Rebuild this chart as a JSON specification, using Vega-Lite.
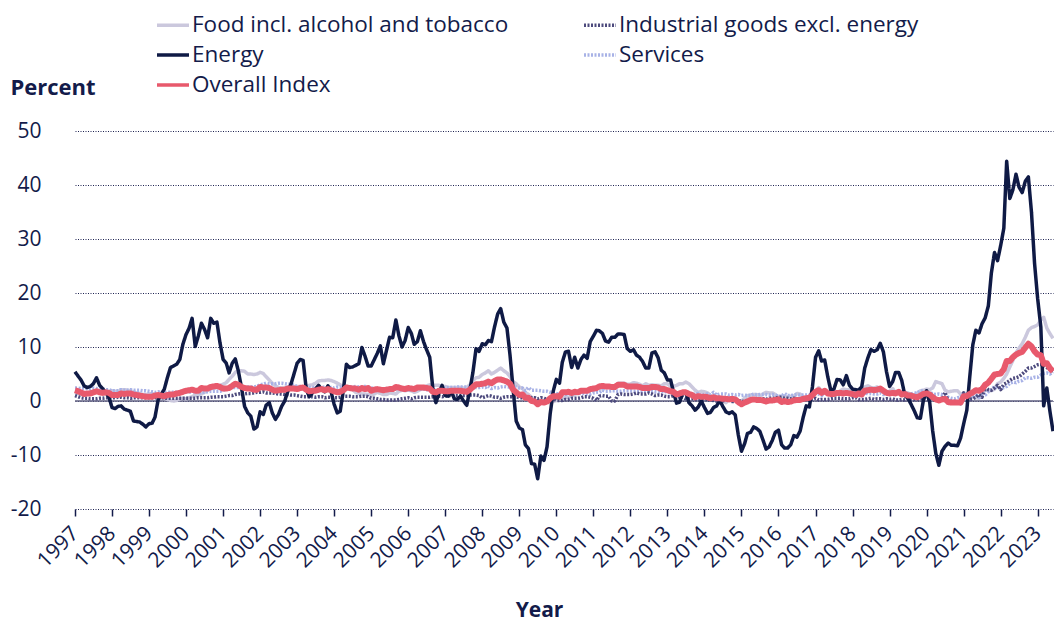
{
"$schema":"https://vega.github.io/schema/vega-lite/v6.json",
"width":978,"height":378,
"autosize":{"type":"none"},
"padding":{"left":75,"top":131,"right":1,"bottom":113},
"background":"white",
"config":{"view":{"stroke":null},"font":"Open Sans","axis":{"labelColor":"#131b4a","titleColor":"#131b4a","labelFont":"Open Sans","titleFont":"Open Sans"},"legend":{"labelColor":"#131b4a","labelFont":"Open Sans"}},
"data":{"values":[
{"d":"1997-01","F":1.6,"E":5.4,"I":1.0,"S":2.4,"O":2.0},{"d":"1997-02","F":1.4,"E":4.6,"I":0.8,"S":2.4,"O":1.8},{"d":"1997-03","F":1.3,"E":3.9,"I":0.6,"S":2.3,"O":1.6},{"d":"1997-04","F":1.2,"E":2.8,"I":0.5,"S":2.3,"O":1.3},{"d":"1997-05","F":1.4,"E":2.5,"I":0.5,"S":2.3,"O":1.4},{"d":"1997-06","F":1.4,"E":2.7,"I":0.4,"S":2.2,"O":1.4},{"d":"1997-07","F":1.6,"E":3.2,"I":0.4,"S":2.4,"O":1.6},{"d":"1997-08","F":1.9,"E":4.3,"I":0.4,"S":2.3,"O":1.8},{"d":"1997-09","F":1.7,"E":2.9,"I":0.5,"S":2.2,"O":1.6},{"d":"1997-10","F":1.6,"E":2.3,"I":0.5,"S":2.2,"O":1.5},{"d":"1997-11","F":1.7,"E":1.5,"I":0.6,"S":2.1,"O":1.6},{"d":"1997-12","F":1.8,"E":0.8,"I":0.6,"S":2.1,"O":1.5},
{"d":"1998-01","F":1.9,"E":-1.2,"I":0.6,"S":1.9,"O":1.1},{"d":"1998-02","F":1.8,"E":-1.4,"I":0.6,"S":1.9,"O":1.1},{"d":"1998-03","F":1.8,"E":-1.0,"I":0.7,"S":1.9,"O":1.1},{"d":"1998-04","F":2.1,"E":-0.9,"I":0.7,"S":2.1,"O":1.4},{"d":"1998-05","F":2.1,"E":-1.5,"I":0.6,"S":2.0,"O":1.3},{"d":"1998-06","F":2.0,"E":-1.7,"I":0.6,"S":2.0,"O":1.4},{"d":"1998-07","F":1.9,"E":-1.9,"I":0.5,"S":2.1,"O":1.4},{"d":"1998-08","F":1.7,"E":-3.7,"I":0.6,"S":2.0,"O":1.2},{"d":"1998-09","F":1.5,"E":-3.8,"I":0.6,"S":2.0,"O":1.1},{"d":"1998-10","F":1.4,"E":-3.9,"I":0.6,"S":2.0,"O":1.0},{"d":"1998-11","F":1.2,"E":-4.3,"I":0.6,"S":1.9,"O":0.9},{"d":"1998-12","F":1.2,"E":-4.8,"I":0.6,"S":1.9,"O":0.8},
{"d":"1999-01","F":1.3,"E":-4.2,"I":0.6,"S":1.8,"O":0.8},{"d":"1999-02","F":1.4,"E":-4.1,"I":0.6,"S":1.7,"O":0.8},{"d":"1999-03","F":1.2,"E":-3.0,"I":0.6,"S":1.6,"O":1.0},{"d":"1999-04","F":1.0,"E":0.2,"I":0.6,"S":1.7,"O":1.1},{"d":"1999-05","F":0.6,"E":1.2,"I":0.6,"S":1.6,"O":1.0},{"d":"1999-06","F":0.5,"E":2.2,"I":0.6,"S":1.5,"O":0.9},{"d":"1999-07","F":0.3,"E":4.3,"I":0.5,"S":1.6,"O":1.1},{"d":"1999-08","F":0.1,"E":6.2,"I":0.5,"S":1.6,"O":1.2},{"d":"1999-09","F":0.0,"E":6.5,"I":0.5,"S":1.6,"O":1.2},{"d":"1999-10","F":0.1,"E":6.8,"I":0.5,"S":1.6,"O":1.4},{"d":"1999-11","F":0.4,"E":7.7,"I":0.5,"S":1.6,"O":1.5},{"d":"1999-12","F":0.5,"E":10.5,"I":0.5,"S":1.7,"O":1.7},
{"d":"2000-01","F":0.4,"E":12.3,"I":0.5,"S":1.7,"O":1.9},{"d":"2000-02","F":0.6,"E":13.5,"I":0.5,"S":1.7,"O":2.0},{"d":"2000-03","F":0.8,"E":15.3,"I":0.5,"S":1.6,"O":2.1},{"d":"2000-04","F":1.1,"E":10.1,"I":0.5,"S":1.8,"O":1.9},{"d":"2000-05","F":1.1,"E":12.0,"I":0.6,"S":1.5,"O":1.9},{"d":"2000-06","F":1.3,"E":14.4,"I":0.6,"S":1.6,"O":2.4},{"d":"2000-07","F":1.6,"E":13.3,"I":0.6,"S":1.6,"O":2.3},{"d":"2000-08","F":2.0,"E":11.7,"I":0.6,"S":1.7,"O":2.3},{"d":"2000-09","F":2.3,"E":15.3,"I":0.7,"S":1.8,"O":2.6},{"d":"2000-10","F":2.3,"E":14.4,"I":0.7,"S":1.8,"O":2.7},{"d":"2000-11","F":2.7,"E":14.6,"I":0.8,"S":1.8,"O":2.8},{"d":"2000-12","F":2.9,"E":10.8,"I":0.8,"S":1.8,"O":2.6},
{"d":"2001-01","F":3.1,"E":7.7,"I":0.8,"S":2.0,"O":2.3},{"d":"2001-02","F":3.4,"E":7.0,"I":0.9,"S":2.1,"O":2.3},{"d":"2001-03","F":4.0,"E":5.2,"I":1.0,"S":2.3,"O":2.4},{"d":"2001-04","F":4.6,"E":7.0,"I":1.0,"S":2.5,"O":2.8},{"d":"2001-05","F":5.3,"E":7.8,"I":1.2,"S":2.5,"O":3.2},{"d":"2001-06","F":5.6,"E":5.5,"I":1.3,"S":2.5,"O":3.0},{"d":"2001-07","F":5.6,"E":2.5,"I":1.4,"S":2.5,"O":2.6},{"d":"2001-08","F":5.5,"E":-1.0,"I":1.3,"S":2.5,"O":2.4},{"d":"2001-09","F":5.0,"E":-2.2,"I":1.4,"S":2.6,"O":2.3},{"d":"2001-10","F":5.0,"E":-2.8,"I":1.4,"S":2.6,"O":2.3},{"d":"2001-11","F":4.9,"E":-5.2,"I":1.5,"S":2.6,"O":2.1},{"d":"2001-12","F":5.0,"E":-4.8,"I":1.6,"S":2.7,"O":2.1},
{"d":"2002-01","F":5.3,"E":-2.0,"I":1.6,"S":3.0,"O":2.6},{"d":"2002-02","F":5.1,"E":-2.5,"I":1.7,"S":3.1,"O":2.5},{"d":"2002-03","F":4.5,"E":-0.8,"I":1.5,"S":3.3,"O":2.5},{"d":"2002-04","F":3.9,"E":-0.3,"I":1.5,"S":3.2,"O":2.4},{"d":"2002-05","F":3.3,"E":-2.2,"I":1.5,"S":3.2,"O":2.1},{"d":"2002-06","F":2.8,"E":-3.4,"I":1.4,"S":3.2,"O":1.9},{"d":"2002-07","F":2.5,"E":-2.5,"I":1.3,"S":3.3,"O":2.0},{"d":"2002-08","F":2.4,"E":-1.0,"I":1.3,"S":3.3,"O":2.1},{"d":"2002-09","F":2.4,"E":0.0,"I":1.2,"S":3.2,"O":2.1},{"d":"2002-10","F":2.6,"E":1.8,"I":1.2,"S":3.1,"O":2.3},{"d":"2002-11","F":2.6,"E":3.1,"I":1.1,"S":3.1,"O":2.3},{"d":"2002-12","F":2.7,"E":5.0,"I":1.1,"S":2.9,"O":2.3},
{"d":"2003-01","F":2.6,"E":7.0,"I":1.0,"S":2.7,"O":2.2},{"d":"2003-02","F":2.6,"E":7.7,"I":0.9,"S":2.7,"O":2.4},{"d":"2003-03","F":2.4,"E":7.5,"I":0.8,"S":2.6,"O":2.5},{"d":"2003-04","F":2.6,"E":2.2,"I":0.8,"S":2.7,"O":2.1},{"d":"2003-05","F":2.9,"E":0.8,"I":0.8,"S":2.5,"O":1.8},{"d":"2003-06","F":3.0,"E":1.5,"I":0.8,"S":2.5,"O":1.9},{"d":"2003-07","F":3.3,"E":2.2,"I":0.7,"S":2.4,"O":1.9},{"d":"2003-08","F":3.7,"E":2.9,"I":0.8,"S":2.4,"O":2.1},{"d":"2003-09","F":3.8,"E":2.1,"I":0.8,"S":2.6,"O":2.2},{"d":"2003-10","F":3.8,"E":1.7,"I":0.6,"S":2.5,"O":2.0},{"d":"2003-11","F":3.9,"E":2.8,"I":0.7,"S":2.5,"O":2.2},{"d":"2003-12","F":3.8,"E":1.8,"I":0.7,"S":2.5,"O":2.0},
{"d":"2004-01","F":3.6,"E":-0.6,"I":0.6,"S":2.4,"O":1.8},{"d":"2004-02","F":3.3,"E":-2.2,"I":0.6,"S":2.6,"O":1.6},{"d":"2004-03","F":3.0,"E":-1.9,"I":0.7,"S":2.6,"O":1.7},{"d":"2004-04","F":2.6,"E":2.0,"I":0.9,"S":2.6,"O":2.0},{"d":"2004-05","F":2.7,"E":6.8,"I":0.9,"S":2.6,"O":2.5},{"d":"2004-06","F":2.4,"E":6.2,"I":0.9,"S":2.6,"O":2.4},{"d":"2004-07","F":2.1,"E":6.3,"I":0.8,"S":2.6,"O":2.3},{"d":"2004-08","F":1.6,"E":6.6,"I":0.8,"S":2.7,"O":2.3},{"d":"2004-09","F":1.4,"E":6.9,"I":0.8,"S":2.6,"O":2.1},{"d":"2004-10","F":1.3,"E":9.9,"I":0.9,"S":2.6,"O":2.4},{"d":"2004-11","F":1.3,"E":8.3,"I":0.9,"S":2.7,"O":2.2},{"d":"2004-12","F":1.2,"E":6.5,"I":0.8,"S":2.6,"O":2.4},
{"d":"2005-01","F":1.1,"E":6.5,"I":0.5,"S":2.4,"O":1.9},{"d":"2005-02","F":1.3,"E":7.7,"I":0.5,"S":2.3,"O":2.1},{"d":"2005-03","F":1.6,"E":8.8,"I":0.4,"S":2.3,"O":2.2},{"d":"2005-04","F":1.4,"E":10.2,"I":0.3,"S":2.2,"O":2.1},{"d":"2005-05","F":1.2,"E":6.9,"I":0.3,"S":2.2,"O":2.0},{"d":"2005-06","F":1.2,"E":9.4,"I":0.2,"S":2.3,"O":2.1},{"d":"2005-07","F":1.5,"E":11.8,"I":0.2,"S":2.3,"O":2.2},{"d":"2005-08","F":1.4,"E":11.7,"I":0.2,"S":2.3,"O":2.2},{"d":"2005-09","F":1.3,"E":15.0,"I":0.2,"S":2.2,"O":2.6},{"d":"2005-10","F":1.8,"E":12.1,"I":0.3,"S":2.2,"O":2.5},{"d":"2005-11","F":2.0,"E":10.0,"I":0.4,"S":2.1,"O":2.3},{"d":"2005-12","F":1.9,"E":11.2,"I":0.5,"S":2.1,"O":2.2},
{"d":"2006-01","F":2.0,"E":13.6,"I":0.6,"S":2.0,"O":2.4},{"d":"2006-02","F":1.9,"E":12.5,"I":0.4,"S":2.1,"O":2.3},{"d":"2006-03","F":1.6,"E":10.5,"I":0.6,"S":2.1,"O":2.2},{"d":"2006-04","F":1.8,"E":11.0,"I":0.7,"S":2.2,"O":2.5},{"d":"2006-05","F":2.1,"E":13.0,"I":0.7,"S":2.2,"O":2.5},{"d":"2006-06","F":2.3,"E":11.0,"I":0.7,"S":2.2,"O":2.5},{"d":"2006-07","F":2.8,"E":9.5,"I":0.7,"S":2.1,"O":2.4},{"d":"2006-08","F":3.0,"E":8.1,"I":0.7,"S":2.1,"O":2.3},{"d":"2006-09","F":2.9,"E":2.2,"I":0.8,"S":2.1,"O":1.7},{"d":"2006-10","F":2.9,"E":-0.3,"I":0.8,"S":2.1,"O":1.6},{"d":"2006-11","F":2.9,"E":1.5,"I":0.9,"S":2.1,"O":1.9},{"d":"2006-12","F":2.7,"E":2.9,"I":0.8,"S":2.1,"O":1.9},
{"d":"2007-01","F":2.7,"E":1.0,"I":0.9,"S":2.5,"O":1.8},{"d":"2007-02","F":2.5,"E":0.9,"I":1.0,"S":2.5,"O":1.8},{"d":"2007-03","F":2.5,"E":1.8,"I":1.0,"S":2.5,"O":1.9},{"d":"2007-04","F":2.5,"E":0.4,"I":1.0,"S":2.5,"O":1.9},{"d":"2007-05","F":2.5,"E":0.3,"I":1.0,"S":2.6,"O":1.9},{"d":"2007-06","F":2.5,"E":0.9,"I":1.0,"S":2.6,"O":1.9},{"d":"2007-07","F":2.4,"E":0.0,"I":1.0,"S":2.6,"O":1.8},{"d":"2007-08","F":2.5,"E":-0.8,"I":1.0,"S":2.6,"O":1.7},{"d":"2007-09","F":3.0,"E":2.0,"I":1.1,"S":2.5,"O":2.1},{"d":"2007-10","F":3.8,"E":5.3,"I":1.1,"S":2.5,"O":2.6},{"d":"2007-11","F":4.3,"E":9.7,"I":1.1,"S":2.5,"O":3.1},{"d":"2007-12","F":4.4,"E":9.2,"I":1.0,"S":2.5,"O":3.1},
{"d":"2008-01","F":4.9,"E":10.6,"I":0.6,"S":2.6,"O":3.2},{"d":"2008-02","F":5.2,"E":10.4,"I":0.8,"S":2.5,"O":3.3},{"d":"2008-03","F":5.6,"E":11.2,"I":1.0,"S":2.8,"O":3.6},{"d":"2008-04","F":5.0,"E":11.0,"I":0.9,"S":2.3,"O":3.3},{"d":"2008-05","F":5.3,"E":13.7,"I":0.7,"S":2.5,"O":3.7},{"d":"2008-06","F":5.7,"E":16.1,"I":0.7,"S":2.4,"O":4.0},{"d":"2008-07","F":6.1,"E":17.1,"I":0.5,"S":2.6,"O":4.0},{"d":"2008-08","F":5.6,"E":14.6,"I":0.7,"S":2.7,"O":3.8},{"d":"2008-09","F":5.2,"E":13.5,"I":0.8,"S":2.6,"O":3.6},{"d":"2008-10","F":4.5,"E":8.5,"I":0.8,"S":2.6,"O":3.2},{"d":"2008-11","F":3.6,"E":2.1,"I":0.8,"S":2.6,"O":2.1},{"d":"2008-12","F":3.2,"E":-3.7,"I":0.8,"S":2.6,"O":1.6},
{"d":"2009-01","F":2.6,"E":-5.0,"I":0.6,"S":2.4,"O":1.1},{"d":"2009-02","F":2.3,"E":-5.3,"I":0.6,"S":2.4,"O":1.2},{"d":"2009-03","F":1.6,"E":-8.1,"I":0.8,"S":1.9,"O":0.6},{"d":"2009-04","F":1.2,"E":-8.8,"I":0.8,"S":2.5,"O":0.6},{"d":"2009-05","F":0.7,"E":-11.6,"I":0.6,"S":2.0,"O":0.0},{"d":"2009-06","F":0.2,"E":-11.7,"I":0.6,"S":2.0,"O":-0.1},{"d":"2009-07","F":-0.1,"E":-14.4,"I":0.4,"S":2.0,"O":-0.6},{"d":"2009-08","F":-0.1,"E":-10.2,"I":0.6,"S":1.9,"O":-0.2},{"d":"2009-09","F":0.1,"E":-11.0,"I":0.5,"S":1.8,"O":-0.3},{"d":"2009-10","F":-0.2,"E":-8.5,"I":0.3,"S":1.8,"O":-0.1},{"d":"2009-11","F":-0.1,"E":-2.4,"I":0.3,"S":1.6,"O":0.5},{"d":"2009-12","F":-0.1,"E":1.8,"I":0.4,"S":1.6,"O":0.9},
{"d":"2010-01","F":0.1,"E":4.0,"I":0.1,"S":1.4,"O":0.9},{"d":"2010-02","F":0.4,"E":3.3,"I":0.1,"S":1.3,"O":0.8},{"d":"2010-03","F":0.5,"E":7.2,"I":0.1,"S":1.6,"O":1.6},{"d":"2010-04","F":0.7,"E":9.1,"I":0.3,"S":1.2,"O":1.6},{"d":"2010-05","F":0.7,"E":9.2,"I":0.3,"S":1.5,"O":1.7},{"d":"2010-06","F":0.9,"E":6.2,"I":0.5,"S":1.4,"O":1.5},{"d":"2010-07","F":1.2,"E":8.1,"I":0.5,"S":1.5,"O":1.7},{"d":"2010-08","F":1.6,"E":6.1,"I":0.5,"S":1.4,"O":1.6},{"d":"2010-09","F":1.6,"E":7.7,"I":0.6,"S":1.4,"O":1.9},{"d":"2010-10","F":1.7,"E":8.5,"I":0.8,"S":1.4,"O":1.9},{"d":"2010-11","F":1.8,"E":7.9,"I":0.8,"S":1.3,"O":1.9},{"d":"2010-12","F":2.1,"E":11.0,"I":0.7,"S":1.3,"O":2.2},
{"d":"2011-01","F":1.9,"E":12.0,"I":0.5,"S":1.5,"O":2.3},{"d":"2011-02","F":2.3,"E":13.1,"I":0.1,"S":1.6,"O":2.4},{"d":"2011-03","F":2.4,"E":13.0,"I":0.9,"S":1.6,"O":2.7},{"d":"2011-04","F":2.2,"E":12.5,"I":1.0,"S":2.0,"O":2.8},{"d":"2011-05","F":2.8,"E":11.1,"I":0.9,"S":1.8,"O":2.7},{"d":"2011-06","F":2.7,"E":10.9,"I":0.9,"S":1.8,"O":2.7},{"d":"2011-07","F":2.7,"E":11.8,"I":0.0,"S":1.9,"O":2.6},{"d":"2011-08","F":2.7,"E":11.8,"I":0.0,"S":1.9,"O":2.6},{"d":"2011-09","F":3.3,"E":12.4,"I":1.2,"S":1.8,"O":3.0},{"d":"2011-10","F":3.3,"E":12.4,"I":1.3,"S":1.8,"O":3.0},{"d":"2011-11","F":3.3,"E":12.3,"I":1.2,"S":1.9,"O":3.0},{"d":"2011-12","F":3.1,"E":9.7,"I":1.2,"S":1.9,"O":2.7},
{"d":"2012-01","F":3.1,"E":9.2,"I":1.2,"S":1.9,"O":2.7},{"d":"2012-02","F":3.4,"E":9.5,"I":1.3,"S":1.8,"O":2.7},{"d":"2012-03","F":3.3,"E":8.5,"I":1.5,"S":1.8,"O":2.7},{"d":"2012-04","F":3.1,"E":8.1,"I":1.3,"S":1.8,"O":2.6},{"d":"2012-05","F":2.8,"E":7.3,"I":1.3,"S":1.8,"O":2.4},{"d":"2012-06","F":3.2,"E":6.1,"I":1.3,"S":1.7,"O":2.4},{"d":"2012-07","F":2.9,"E":6.1,"I":1.5,"S":1.8,"O":2.4},{"d":"2012-08","F":3.0,"E":8.9,"I":1.3,"S":1.8,"O":2.6},{"d":"2012-09","F":2.9,"E":9.1,"I":1.0,"S":1.7,"O":2.6},{"d":"2012-10","F":2.9,"E":8.0,"I":1.1,"S":1.7,"O":2.5},{"d":"2012-11","F":2.8,"E":5.7,"I":1.1,"S":1.7,"O":2.2},{"d":"2012-12","F":3.2,"E":5.2,"I":0.9,"S":1.8,"O":2.2},
{"d":"2013-01","F":3.2,"E":3.9,"I":0.8,"S":1.6,"O":2.0},{"d":"2013-02","F":2.7,"E":3.9,"I":0.8,"S":1.5,"O":1.8},{"d":"2013-03","F":2.7,"E":1.7,"I":1.0,"S":1.8,"O":1.7},{"d":"2013-04","F":2.9,"E":-0.4,"I":0.8,"S":1.1,"O":1.2},{"d":"2013-05","F":3.2,"E":-0.2,"I":0.7,"S":1.5,"O":1.4},{"d":"2013-06","F":3.2,"E":1.6,"I":0.7,"S":1.4,"O":1.6},{"d":"2013-07","F":3.5,"E":1.6,"I":0.4,"S":1.4,"O":1.6},{"d":"2013-08","F":3.2,"E":-0.3,"I":0.4,"S":1.4,"O":1.3},{"d":"2013-09","F":2.6,"E":-0.9,"I":0.4,"S":1.4,"O":1.1},{"d":"2013-10","F":2.0,"E":-1.7,"I":0.3,"S":1.2,"O":0.7},{"d":"2013-11","F":1.6,"E":-1.1,"I":0.3,"S":1.4,"O":0.9},{"d":"2013-12","F":1.8,"E":0.0,"I":0.2,"S":1.0,"O":0.8},
{"d":"2014-01","F":1.7,"E":-1.2,"I":0.2,"S":1.2,"O":0.8},{"d":"2014-02","F":1.5,"E":-2.3,"I":0.4,"S":1.3,"O":0.7},{"d":"2014-03","F":1.0,"E":-2.1,"I":0.2,"S":1.1,"O":0.5},{"d":"2014-04","F":0.7,"E":-1.2,"I":0.1,"S":1.6,"O":0.7},{"d":"2014-05","F":0.1,"E":-0.9,"I":0.0,"S":1.1,"O":0.5},{"d":"2014-06","F":0.2,"E":0.1,"I":-0.1,"S":1.3,"O":0.5},{"d":"2014-07","F":0.0,"E":-1.0,"I":0.0,"S":1.3,"O":0.4},{"d":"2014-08","F":-0.3,"E":-2.0,"I":0.3,"S":1.3,"O":0.4},{"d":"2014-09","F":0.3,"E":-2.3,"I":0.2,"S":1.1,"O":0.3},{"d":"2014-10","F":0.5,"E":-2.0,"I":-0.1,"S":1.2,"O":0.4},{"d":"2014-11","F":0.5,"E":-2.6,"I":-0.1,"S":1.1,"O":0.3},{"d":"2014-12","F":0.0,"E":-6.3,"I":0.1,"S":1.2,"O":-0.2},
{"d":"2015-01","F":0.0,"E":-9.3,"I":-0.1,"S":1.0,"O":-0.6},{"d":"2015-02","F":0.5,"E":-7.9,"I":0.0,"S":1.1,"O":-0.3},{"d":"2015-03","F":1.0,"E":-6.0,"I":0.1,"S":1.0,"O":-0.1},{"d":"2015-04","F":1.1,"E":-5.8,"I":0.1,"S":1.0,"O":0.2},{"d":"2015-05","F":1.2,"E":-4.8,"I":0.3,"S":1.3,"O":0.3},{"d":"2015-06","F":1.2,"E":-5.1,"I":0.2,"S":1.1,"O":0.2},{"d":"2015-07","F":0.9,"E":-5.6,"I":0.4,"S":1.2,"O":0.2},{"d":"2015-08","F":1.3,"E":-7.2,"I":0.4,"S":1.2,"O":0.1},{"d":"2015-09","F":1.6,"E":-8.9,"I":0.3,"S":1.2,"O":-0.1},{"d":"2015-10","F":1.5,"E":-8.5,"I":0.5,"S":1.1,"O":0.1},{"d":"2015-11","F":1.5,"E":-7.3,"I":0.5,"S":1.2,"O":0.1},{"d":"2015-12","F":1.2,"E":-5.8,"I":0.5,"S":1.1,"O":0.2},
{"d":"2016-01","F":0.8,"E":-5.4,"I":0.7,"S":0.9,"O":0.3},{"d":"2016-02","F":0.8,"E":-8.1,"I":0.7,"S":0.9,"O":-0.2},{"d":"2016-03","F":0.8,"E":-8.7,"I":0.5,"S":1.4,"O":0.0},{"d":"2016-04","F":0.8,"E":-8.7,"I":0.5,"S":1.0,"O":-0.2},{"d":"2016-05","F":0.9,"E":-8.1,"I":0.4,"S":1.0,"O":-0.1},{"d":"2016-06","F":0.9,"E":-6.4,"I":0.5,"S":1.1,"O":0.1},{"d":"2016-07","F":1.4,"E":-6.7,"I":0.4,"S":1.2,"O":0.2},{"d":"2016-08","F":1.3,"E":-5.6,"I":0.3,"S":1.1,"O":0.2},{"d":"2016-09","F":0.7,"E":-3.0,"I":0.3,"S":1.1,"O":0.4},{"d":"2016-10","F":0.7,"E":-0.9,"I":0.3,"S":1.1,"O":0.5},{"d":"2016-11","F":0.6,"E":-1.1,"I":0.3,"S":1.1,"O":0.6},{"d":"2016-12","F":1.2,"E":2.6,"I":0.3,"S":1.3,"O":1.1},
{"d":"2017-01","F":1.8,"E":8.1,"I":0.5,"S":1.6,"O":1.7},{"d":"2017-02","F":2.5,"E":9.3,"I":0.2,"S":1.3,"O":2.0},{"d":"2017-03","F":1.8,"E":7.4,"I":0.3,"S":1.0,"O":1.5},{"d":"2017-04","F":1.5,"E":7.6,"I":0.3,"S":1.8,"O":1.9},{"d":"2017-05","F":1.5,"E":4.5,"I":0.3,"S":1.3,"O":1.4},{"d":"2017-06","F":1.3,"E":1.9,"I":0.4,"S":1.6,"O":1.3},{"d":"2017-07","F":1.4,"E":2.2,"I":0.5,"S":1.6,"O":1.3},{"d":"2017-08","F":1.4,"E":4.0,"I":0.5,"S":1.6,"O":1.5},{"d":"2017-09","F":1.9,"E":3.9,"I":0.5,"S":1.5,"O":1.5},{"d":"2017-10","F":2.2,"E":3.0,"I":0.4,"S":1.2,"O":1.4},{"d":"2017-11","F":2.1,"E":4.7,"I":0.4,"S":1.5,"O":1.5},{"d":"2017-12","F":2.1,"E":2.9,"I":0.4,"S":1.4,"O":1.4},
{"d":"2018-01","F":1.9,"E":2.2,"I":0.6,"S":1.3,"O":1.3},{"d":"2018-02","F":1.0,"E":2.1,"I":0.6,"S":1.2,"O":1.1},{"d":"2018-03","F":2.1,"E":2.0,"I":0.3,"S":1.5,"O":1.4},{"d":"2018-04","F":2.6,"E":2.6,"I":0.3,"S":1.0,"O":1.2},{"d":"2018-05","F":2.6,"E":6.1,"I":0.3,"S":1.6,"O":1.9},{"d":"2018-06","F":2.8,"E":8.0,"I":0.4,"S":1.3,"O":2.0},{"d":"2018-07","F":2.5,"E":9.5,"I":0.5,"S":1.4,"O":2.1},{"d":"2018-08","F":2.4,"E":9.2,"I":0.3,"S":1.3,"O":2.0},{"d":"2018-09","F":2.6,"E":9.5,"I":0.4,"S":1.3,"O":2.1},{"d":"2018-10","F":2.2,"E":10.7,"I":0.4,"S":1.5,"O":2.3},{"d":"2018-11","F":1.9,"E":9.1,"I":0.3,"S":1.2,"O":1.9},{"d":"2018-12","F":1.7,"E":5.5,"I":0.4,"S":1.3,"O":1.5},
{"d":"2019-01","F":1.8,"E":2.7,"I":0.3,"S":1.2,"O":1.4},{"d":"2019-02","F":2.3,"E":3.6,"I":0.4,"S":1.4,"O":1.5},{"d":"2019-03","F":1.5,"E":5.3,"I":0.2,"S":1.3,"O":1.4},{"d":"2019-04","F":1.5,"E":5.3,"I":0.2,"S":1.9,"O":1.7},{"d":"2019-05","F":1.6,"E":3.8,"I":0.3,"S":1.0,"O":1.2},{"d":"2019-06","F":1.6,"E":1.0,"I":0.2,"S":1.6,"O":1.3},{"d":"2019-07","F":1.5,"E":0.5,"I":0.4,"S":1.2,"O":1.0},{"d":"2019-08","F":1.2,"E":-0.6,"I":0.3,"S":1.3,"O":1.0},{"d":"2019-09","F":1.1,"E":-1.8,"I":0.3,"S":1.5,"O":0.8},{"d":"2019-10","F":1.4,"E":-3.1,"I":0.3,"S":1.5,"O":0.7},{"d":"2019-11","F":1.9,"E":-3.2,"I":0.4,"S":1.9,"O":1.0},{"d":"2019-12","F":2.0,"E":0.2,"I":0.5,"S":1.8,"O":1.3},
{"d":"2020-01","F":2.2,"E":1.9,"I":0.3,"S":1.5,"O":1.4},{"d":"2020-02","F":2.1,"E":-0.3,"I":0.5,"S":1.6,"O":1.2},{"d":"2020-03","F":2.4,"E":-5.5,"I":0.5,"S":1.3,"O":0.7},{"d":"2020-04","F":3.6,"E":-9.7,"I":0.3,"S":1.2,"O":0.3},{"d":"2020-05","F":3.4,"E":-11.9,"I":0.2,"S":1.3,"O":0.1},{"d":"2020-06","F":3.2,"E":-9.3,"I":0.2,"S":1.2,"O":0.3},{"d":"2020-07","F":2.0,"E":-8.4,"I":1.6,"S":0.9,"O":0.4},{"d":"2020-08","F":1.7,"E":-7.8,"I":-0.1,"S":0.7,"O":-0.2},{"d":"2020-09","F":1.8,"E":-8.2,"I":-0.1,"S":0.5,"O":-0.3},{"d":"2020-10","F":1.9,"E":-8.2,"I":-0.1,"S":0.4,"O":-0.3},{"d":"2020-11","F":1.9,"E":-8.3,"I":-0.3,"S":0.6,"O":-0.3},{"d":"2020-12","F":1.3,"E":-6.9,"I":-0.5,"S":0.7,"O":-0.3},
{"d":"2021-01","F":1.4,"E":-4.2,"I":1.5,"S":1.4,"O":0.9},{"d":"2021-02","F":1.3,"E":-1.7,"I":1.0,"S":1.3,"O":0.9},{"d":"2021-03","F":1.1,"E":4.3,"I":0.3,"S":1.3,"O":1.3},{"d":"2021-04","F":0.7,"E":10.4,"I":0.4,"S":0.9,"O":1.6},{"d":"2021-05","F":0.6,"E":13.1,"I":0.7,"S":1.1,"O":2.0},{"d":"2021-06","F":0.5,"E":12.6,"I":1.2,"S":0.7,"O":1.9},{"d":"2021-07","F":1.6,"E":14.3,"I":0.7,"S":0.9,"O":2.2},{"d":"2021-08","F":2.0,"E":15.4,"I":2.6,"S":1.1,"O":3.0},{"d":"2021-09","F":2.0,"E":17.6,"I":2.1,"S":1.7,"O":3.4},{"d":"2021-10","F":1.9,"E":23.7,"I":2.0,"S":2.1,"O":4.1},{"d":"2021-11","F":2.2,"E":27.5,"I":2.4,"S":2.7,"O":4.9},{"d":"2021-12","F":3.2,"E":26.0,"I":2.9,"S":2.4,"O":5.0},
{"d":"2022-01","F":3.5,"E":28.8,"I":2.1,"S":2.3,"O":5.1},{"d":"2022-02","F":4.2,"E":32.0,"I":3.1,"S":2.5,"O":5.9},{"d":"2022-03","F":5.0,"E":44.4,"I":3.4,"S":2.7,"O":7.4},{"d":"2022-04","F":6.3,"E":37.5,"I":3.8,"S":3.3,"O":7.4},{"d":"2022-05","F":7.5,"E":39.1,"I":4.2,"S":3.5,"O":8.1},{"d":"2022-06","F":8.9,"E":42.0,"I":4.3,"S":3.4,"O":8.6},{"d":"2022-07","F":9.8,"E":39.6,"I":4.5,"S":3.7,"O":8.9},{"d":"2022-08","F":10.6,"E":38.6,"I":5.0,"S":3.8,"O":9.1},{"d":"2022-09","F":11.8,"E":40.7,"I":5.5,"S":4.3,"O":9.9},{"d":"2022-10","F":13.1,"E":41.5,"I":6.1,"S":4.3,"O":10.6},{"d":"2022-11","F":13.6,"E":34.9,"I":6.1,"S":4.2,"O":10.1},{"d":"2022-12","F":13.8,"E":25.5,"I":6.4,"S":4.4,"O":9.2},
{"d":"2023-01","F":14.1,"E":18.9,"I":6.7,"S":4.4,"O":8.6},{"d":"2023-02","F":15.0,"E":13.7,"I":6.8,"S":4.8,"O":8.5},{"d":"2023-03","F":15.5,"E":-0.9,"I":6.6,"S":5.1,"O":6.9},{"d":"2023-04","F":13.5,"E":2.4,"I":6.2,"S":5.2,"O":7.0},{"d":"2023-05","F":12.5,"E":-1.8,"I":5.8,"S":5.0,"O":6.1},{"d":"2023-06","F":11.6,"E":-5.6,"I":5.5,"S":5.4,"O":5.5}
]},
"layer":[
{"data":{"values":[{"z":0}]},
 "mark":{"type":"rule","color":"#5f5f80","strokeWidth":1.5},
 "encoding":{"y":{"field":"z","type":"quantitative"}}},
{"transform":[{"fold":["F","S","I","E","O"],"as":["series","value"]}],
 "mark":{"type":"line","strokeJoin":"round","strokeCap":"butt"},
 "encoding":{
  "x":{"field":"d","type":"temporal",
       "scale":{"type":"utc","domain":[{"year":1997,"month":1,"date":1,"utc":true},{"year":2023,"month":6,"date":1,"utc":true}]},
       "axis":{"format":"%Y","tickCount":{"interval":"year","step":1},"labelAngle":-45,"labelAlign":"right","labelBaseline":"middle","labelFontSize":21,"labelPadding":14,"labelDx":3,"labelOverlap":false,"grid":false,"domain":false,"ticks":true,"tickSize":7,"tickWidth":1.5,"tickColor":"#131b4a",
               "title":"Year","titleFontSize":21,"titleFontWeight":"bold","titleX":464,"titleY":101,"titleAlign":"center","titleBaseline":"middle"}},
  "y":{"field":"value","type":"quantitative",
       "scale":{"domain":[-20,50],"nice":false,"zero":false},
       "axis":{"values":[-20,-10,0,10,20,30,40,50],"labelExpr":"'' + datum.value","grid":true,"gridColor":"#1d2150","gridDash":[1,1.5],"gridWidth":1,"domain":false,"ticks":false,"labelPadding":34,"labelFontSize":21,
               "title":"Percent","titleAngle":0,"titleX":-65,"titleY":-44,"titleAlign":"left","titleBaseline":"middle","titleFontSize":22,"titleFontWeight":"bold"}},
  "color":{"field":"series","type":"nominal",
       "scale":{"domain":["F","E","O","I","S"],"range":["#cbc8dd","#0f1a45","#e8596c","#4d4a7d","#a8b2e6"]},
       "legend":{"title":null,"orient":"none","legendX":80,"legendY":-124,"columns":2,"columnPadding":68,"rowPadding":-1,"symbolType":"stroke","symbolSize":1024,"symbolStrokeWidth":3.5,"labelFontSize":22.5,"labelOffset":1,"labelLimit":500,
                 "labelExpr":"datum.label=='F'?'Food incl. alcohol and tobacco':datum.label=='I'?'Industrial goods excl. energy':datum.label=='E'?'Energy':datum.label=='S'?'Services':'Overall Index'"}},
  "strokeDash":{"field":"series","type":"nominal",
       "scale":{"domain":["F","E","O","I","S"],"range":[[1,0],[1,0],[1,0],[2,1.5],[2,1.5]]},"legend":null},
  "strokeWidth":{"condition":{"test":"datum.series==='O'","value":6},"value":3.5}
 }}
]
}
